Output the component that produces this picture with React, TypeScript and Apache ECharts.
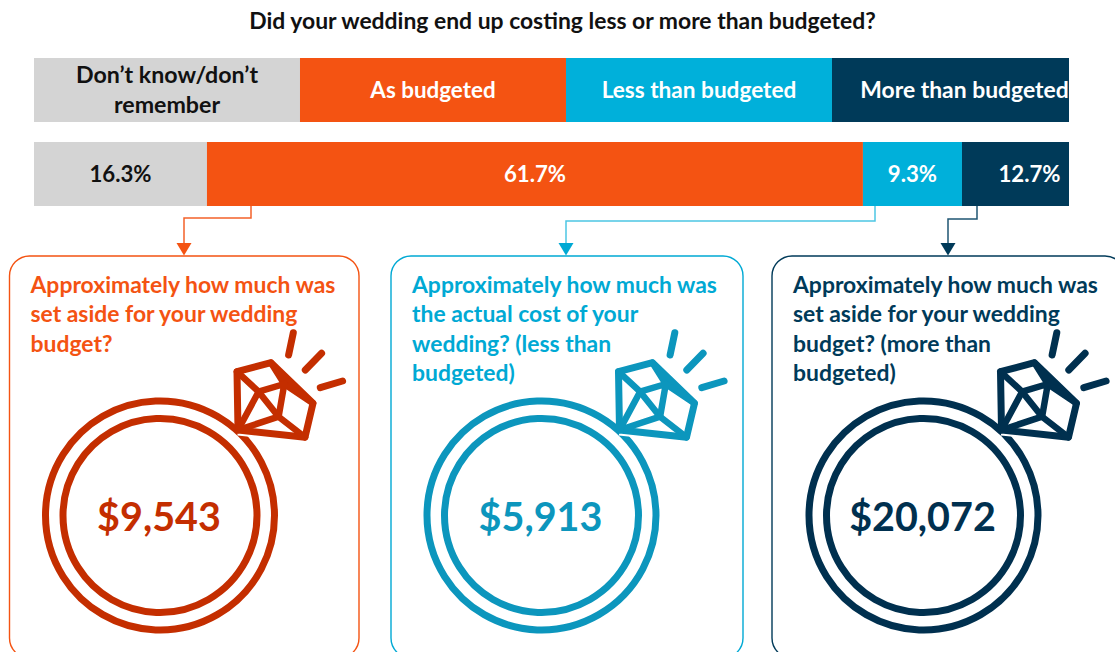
import React, { useEffect, useRef } from "react";
import * as echarts from "echarts";

const FONT = "Lato, 'Noto Sans', sans-serif";
const titleText = "Did your wedding end up costing less or more than budgeted?";
const rowNames = ["Response key", "Share of respondents"];
const seriesNames = ["Don’t know/don’t\nremember", "As budgeted", "Less than budgeted", "More than budgeted"];
const shareLabels = ["16.3%", "61.7%", "9.3%", "12.7%"];
// Drawn segment lengths (share of the full bar width)
const keyLengths = [25.7, 25.7, 25.7, 22.9];
const shareLengths = [16.71, 63.38, 9.57, 10.34];
const barColors = ["#D4D4D4", "#F45312", "#00B0DA", "#003A59"];
const labelColors = ["#111111", "#FFFFFF", "#FFFFFF", "#FFFFFF"];
const keyLabelSizes = [23.2, 22.4, 22.6, 22.9];
const keyLabelShift = [0, 0, 0, 14];
const shareLabelShift = [0, 0, 0, 14];

const questions = [
  ["Approximately how much was", "set aside for your wedding", "budget?"],
  ["Approximately how much was", "the actual cost of your", "wedding? (less than", "budgeted)"],
  ["Approximately how much was", "set aside for your wedding", "budget? (more than", "budgeted)"],
];
const amounts = ["$9,543", "$5,913", "$20,072"];
const panelColors = ["#F45312", "#00A9D4", "#003A59"];
const connectorColors = ["#F4622A", "#4CC6E4", "#1F5573"];
const ringColors = ["#C42E00", "#0C96BD", "#00304F"];

const panelLayout = [
  { x: 9.5, w: 349.5, cx: 160, bar: 251, drop: 184, bend: 218 },
  { x: 391, w: 352, cx: 541.5, bar: 875, drop: 566, bend: 221 },
  { x: 772, w: 353, cx: 923.5, bar: 977, drop: 948, bend: 219 },
];

const pts = {
  A: [77, -143.8], B: [111, -152.8], C: [153, -112.2], D: [145, -78.2], E: [78, -85.5],
  F: [98.6, -123.8], G: [124.3, -131.5], H: [118.6, -98.8],
};

function ring(i: number) {
  const color = ringColors[i];
  const line = (points: number[][], lineWidth = 6.5) => ({
    type: "polyline",
    shape: { points },
    style: { fill: "none", stroke: color, lineWidth, lineCap: "round", lineJoin: "round" },
  });
  const outline = [pts.A, pts.B, pts.C, pts.D, pts.E, pts.A];
  const circle = (r: number) => ({
    type: "circle",
    shape: { cx: 0, cy: 0, r },
    style: { fill: "none", stroke: color, lineWidth: 7 },
  });
  return {
    type: "group",
    x: panelLayout[i].cx,
    y: 515.5,
    children: [
      circle(114.5),
      circle(97),
      { type: "polyline", shape: { points: [pts.E, pts.D] }, style: { fill: "none", stroke: "#fff", lineWidth: 11 } },
      line(outline, 7),
      line([pts.A, pts.F, pts.H, pts.D]),
      line([pts.B, pts.G, pts.C]),
      line([pts.F, pts.G, pts.H, pts.E]),
      line([pts.F, pts.E]),
      line([[133.3, -182.8], [128.6, -160.5]], 7),
      line([[161.6, -162.2], [145.3, -145.5]], 7),
      line([[182.6, -134.5], [160.3, -127.8]], 7),
    ],
  };
}

function panel(i: number) {
  const p = panelLayout[i];
  const children: any[] = [
    {
      type: "rect",
      shape: { x: p.x, y: 256, width: p.w, height: 402, r: 20 },
      style: { fill: "#fff", stroke: panelColors[i], lineWidth: 1.4 },
    },
    {
      type: "polyline",
      shape: { points: [[p.bar, 206], [p.bar, p.bend], [p.drop, p.bend], [p.drop, 244]] },
      style: { fill: "none", stroke: connectorColors[i], lineWidth: 1.5 },
    },
    {
      type: "polygon",
      shape: { points: [[p.drop - 7.5, 243], [p.drop + 7.5, 243], [p.drop, 255.5]] },
      style: { fill: panelColors[i] },
    },
    ring(i),
  ];
  questions[i].forEach((t, k) => {
    children.push({
      type: "text",
      style: {
        text: t, x: p.x + 21, y: 284 + k * 29.4, fill: panelColors[i],
        font: `700 22.9px ${FONT}`, textVerticalAlign: "middle", textAlign: "left",
      },
    });
  });
  children.push({
    type: "text",
    style: {
      text: amounts[i], x: p.cx - 1, y: 515, fill: ringColors[i],
      font: `700 39.5px ${FONT}`, textVerticalAlign: "middle", textAlign: "center",
    },
  });
  return { type: "group", children };
}

export default function App() {
  const ref = useRef<HTMLDivElement>(null);
  useEffect(() => {
    document.body.style.margin = "0";
    const chart = echarts.init(ref.current!, null, { renderer: "svg" });
    chart.setOption({
      animation: false,
      title: {
        text: titleText, left: 557.5, top: 3, textAlign: "center",
        textStyle: { fontFamily: FONT, fontWeight: 700, fontSize: 22.9, color: "#111111" },
      },
      grid: { left: 34, width: 1035, top: 48, height: 168 },
      xAxis: { type: "value", min: 0, max: 100, show: false },
      yAxis: { type: "category", data: rowNames, inverse: true, show: false },
      series: seriesNames.map((name, i) => ({
        name,
        type: "bar",
        stack: "all",
        barWidth: 64,
        itemStyle: { color: barColors[i] },
        data: [
          { value: keyLengths[i], label: { offset: [keyLabelShift[i], -1], fontSize: keyLabelSizes[i] } },
          { value: shareLengths[i], label: { offset: [shareLabelShift[i], -1], fontSize: 22.2 } },
        ],
        label: {
          show: true,
          position: "inside",
          formatter: (o: any) => (o.dataIndex === 0 ? name : shareLabels[i]),
          color: labelColors[i],
          fontFamily: FONT,
          fontWeight: 700,
          lineHeight: 30,
        },
      })),
      graphic: { elements: [0, 1, 2].map(panel) },
    });
    return () => chart.dispose();
  }, []);
  return <div ref={ref} style={{ position: "absolute", left: 0, top: 0, width: 1115, height: 652 }} />;
}
